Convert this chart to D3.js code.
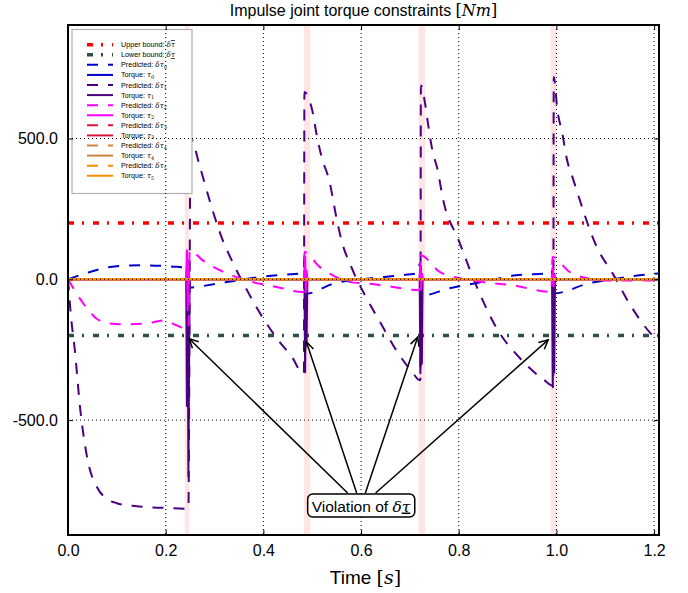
<!DOCTYPE html>
<html><head><meta charset="utf-8">
<script src="https://cdn.jsdelivr.net/npm/d3@7"></script>
<style>body{margin:0;background:#fff}</style>
</head><body><svg id="c" width="688" height="593"></svg>
<script>
// ---------- data ----------
const xTicks = [0.0, 0.2, 0.4, 0.6, 0.8, 1.0, 1.2];
const yTicks = [-500, 0, 500];
const upperBound = 200;
const lowerBound = -200;
const tEnd = 1.21;
const impactSpans = [[0.239, 0.248], [0.483, 0.496], [0.718, 0.731], [0.988, 1.0]];

// Predicted (dashed)
const predTau0 = [[0,0],[0.045,26],[0.086,44],[0.147,50],[0.209,46],[0.243,42],[0.2465,65],[0.2505,-30],[0.264,-27],[0.325,-10],[0.393,8],[0.455,18],[0.481,22],[0.484,40],[0.488,-51],[0.544,-15],[0.611,2],[0.679,14],[0.716,22],[0.7205,57],[0.726,-57],[0.781,-32],[0.849,-9],[0.917,14],[0.985,22],[0.990,32],[0.995,-50],[1.067,-14],[1.114,0],[1.170,14],[1.21,21]];
const predTau1 = [[0,0],[0.006,-130],[0.014,-252],[0.025,-460],[0.04,-640],[0.06,-740],[0.08,-780],[0.1,-795],[0.14,-806],[0.2,-812],[0.245,-815],[0.2465,-815],[0.251,500],[0.27,400],[0.29,280],[0.31,170],[0.34,50],[0.37,-50],[0.40,-140],[0.43,-215],[0.46,-280],[0.481,-335],[0.483,-335],[0.484,665],[0.50,600],[0.51,505],[0.52,430],[0.535,350],[0.55,215],[0.56,138],[0.58,44],[0.61,-63],[0.637,-146],[0.672,-252],[0.705,-330],[0.720,-358],[0.7215,-358],[0.7225,688],[0.731,625],[0.737,553],[0.746,458],[0.757,387],[0.767,291],[0.80,138],[0.84,-39],[0.88,-181],[0.92,-270],[0.975,-358],[0.993,-378],[0.9935,-378],[0.9945,718],[1.002,600],[1.012,518],[1.022,422],[1.033,362],[1.084,110],[1.115,21],[1.149,-85],[1.176,-156],[1.21,-224]];
const predTau2 = [[0,0],[0.031,-85],[0.058,-139],[0.086,-157],[0.12,-160],[0.161,-157],[0.195,-146],[0.222,-163],[0.245,-178],[0.2465,-178],[0.249,103],[0.276,67],[0.325,21],[0.365,-4],[0.427,-27],[0.481,-45],[0.4825,-45],[0.484,97],[0.515,44],[0.542,14],[0.577,-10],[0.611,-15],[0.665,-27],[0.718,-39],[0.7195,-39],[0.7215,85],[0.761,26],[0.802,4],[0.849,-10],[0.910,-21],[0.988,-45],[0.9895,-45],[0.992,79],[1.027,26],[1.068,2],[1.102,-4],[1.156,-4],[1.21,-4]];
const predTau3 = [[0,0],[1.21,0]];
const predTau4 = [[0,0],[1.21,0]];
const predTau5 = [[0,0],[1.21,0]];

// Applied torques (solid): zero except during impacts
const torqueTau0 = [[0,0],[0.242,0],[0.2435,44],[0.2450,-60],[0.2465,30],[0.248,0],[0.484,0],[0.4855,40],[0.487,-40],[0.4885,20],[0.490,0],[0.720,0],[0.7215,50],[0.723,-45],[0.7245,20],[0.726,0],[0.991,0],[0.9925,40],[0.994,-60],[0.9955,20],[0.997,0],[1.21,0]];
const torqueTau1 = [[0,0],[0.242,0],[0.2435,-450],[0.2450,-20],[0.2465,-700],[0.249,0],[0.484,0],[0.4855,-330],[0.487,-30],[0.4885,-227],[0.490,0],[0.720,0],[0.7215,-334],[0.723,-20],[0.7245,-300],[0.726,0],[0.991,0],[0.9925,-383],[0.994,-30],[0.9955,-330],[0.997,0],[1.21,0]];
const torqueTau2 = [[0,0],[0.242,0],[0.2435,103],[0.2450,-110],[0.2465,60],[0.248,0],[0.484,0],[0.4855,80],[0.487,-45],[0.4885,30],[0.490,0],[0.720,0],[0.7215,60],[0.723,-35],[0.7245,20],[0.726,0],[0.991,0],[0.9925,44],[0.994,-25],[0.9955,15],[0.997,0],[1.21,0]];
const torqueTau3 = [[0,0],[1.21,0]];
const torqueTau4 = [[0,0],[1.21,0]];
const torqueTau5 = [[0,0],[1.21,0]];

const violationTargets = [[0.248,-211],[0.488,-222],[0.716,-205],[0.983,-215]];

// ---------- layout ----------
const W = 688, H = 593;
const M = {l: 68, r: 29, t: 25, b: 58};
const svg = d3.select('#c');
const x = d3.scaleLinear().domain([0, tEnd]).range([M.l, W - M.r]);
const y = d3.scaleLinear().domain([-908, 903]).range([H - M.b, M.t]);
const SANS = "'Liberation Sans', Arial, Helvetica, sans-serif";
const SERIF = "'DejaVu Serif', serif";

svg.append('defs').append('clipPath').attr('id','clip')
  .append('rect').attr('x', M.l).attr('y', M.t).attr('width', W-M.l-M.r).attr('height', H-M.t-M.b);

const plot = svg.append('g').attr('clip-path','url(#clip)');

// impact spans
plot.selectAll('rect.span').data(impactSpans).join('rect')
  .attr('x', d => x(d[0])).attr('width', d => x(d[1]) - x(d[0]))
  .attr('y', M.t).attr('height', H - M.t - M.b)
  .attr('fill', '#ff0000').attr('fill-opacity', 0.1);

// legend (drawn below data & grid)
const legendItems = [
  {pre:'Upper bound: ', sym:'τ', deco:'overline', sub:'', color:'#ff0000', dash:'6,8,2,9', w:3.5},
  {pre:'Lower bound: ', sym:'τ', deco:'underline', sub:'', color:'#2f4f4f', dash:'6,8,2,9', w:3.5},
  {pre:'Predicted: ', sym:'δτ', sub:'0', color:'#0000cd', dash:'11,10', w:2},
  {pre:'Torque: ', sym:'τ', sub:'0', color:'#0000cd', dash:null, w:2},
  {pre:'Predicted: ', sym:'δτ', sub:'1', color:'#4b0082', dash:'11,10', w:2},
  {pre:'Torque: ', sym:'τ', sub:'1', color:'#4b0082', dash:null, w:2},
  {pre:'Predicted: ', sym:'δτ', sub:'2', color:'#ff00ff', dash:'11,10', w:2},
  {pre:'Torque: ', sym:'τ', sub:'2', color:'#ff00ff', dash:null, w:2},
  {pre:'Predicted: ', sym:'δτ', sub:'3', color:'#dc143c', dash:'11,10', w:2},
  {pre:'Torque: ', sym:'τ', sub:'3', color:'#dc143c', dash:null, w:2},
  {pre:'Predicted: ', sym:'δτ', sub:'4', color:'#cd853f', dash:'11,10', w:2},
  {pre:'Torque: ', sym:'τ', sub:'4', color:'#cd853f', dash:null, w:2},
  {pre:'Predicted: ', sym:'δτ', sub:'5', color:'#ff8c00', dash:'11,10', w:2},
  {pre:'Torque: ', sym:'τ', sub:'5', color:'#ff8c00', dash:null, w:2},
];
const lg = svg.append('g');
lg.append('rect').attr('x', 72).attr('y', 29.5).attr('width', 120).attr('height', 164)
  .attr('fill', '#fff').attr('stroke', '#b0b0b0').attr('stroke-width', 1.2);
legendItems.forEach((d, i) => {
  const yy = 44.7 + i * 10.08;
  lg.append('line').attr('x1', 87).attr('x2', 113).attr('y1', yy).attr('y2', yy)
    .attr('stroke', d.color).attr('stroke-width', d.w)
    .attr('stroke-dasharray', d.dash);
  const t = lg.append('text').attr('x', 121).attr('y', yy + 2.5)
    .attr('font-family', SANS).attr('font-size', 7.2).attr('fill', '#000');
  t.append('tspan').text(d.pre);
  if (d.deco) {
    t.append('tspan').attr('font-family', SERIF).attr('font-style', 'italic').text('δ');
    t.append('tspan').attr('font-family', SERIF).attr('font-style', 'italic')
      .attr('text-decoration', d.deco).text(d.sym);
  } else {
    t.append('tspan').attr('font-family', SERIF).attr('font-style', 'italic').text(d.sym);
  }
  if (d.sub) t.append('tspan').attr('font-family', SERIF).attr('font-size', 5).attr('dy', 1.5).text(d.sub);
});

// bounds
const line = d3.line().x(d => x(d[0])).y(d => y(d[1]));
const smooth = d3.line().x(d => x(d[0])).y(d => y(d[1])).curve(d3.curveMonotoneX);
plot.append('path').attr('d', line([[0, upperBound],[tEnd, upperBound]]))
  .attr('stroke', '#ff0000').attr('stroke-width', 3.5).attr('fill','none').attr('stroke-dasharray','6,8,2,9');
plot.append('path').attr('d', line([[0, lowerBound],[tEnd, lowerBound]]))
  .attr('stroke', '#2f4f4f').attr('stroke-width', 3.5).attr('fill','none').attr('stroke-dasharray','6,8,2,9');

const series = [
  {d: predTau0, c:'#0000cd', dash:'11,10', gen: smooth},
  {d: torqueTau0, c:'#0000cd', dash:null, gen: line},
  {d: predTau1, c:'#4b0082', dash:'11,10', gen: smooth},
  {d: torqueTau1, c:'#4b0082', dash:null, gen: line},
  {d: predTau2, c:'#ff00ff', dash:'11,10', gen: smooth},
  {d: torqueTau2, c:'#ff00ff', dash:null, gen: line},
  {d: predTau3, c:'#dc143c', dash:'11,10', gen: line},
  {d: torqueTau3, c:'#dc143c', dash:null, gen: line},
  {d: predTau4, c:'#cd853f', dash:'11,10', gen: line},
  {d: torqueTau4, c:'#cd853f', dash:null, gen: line},
  {d: predTau5, c:'#ff8c00', dash:'11,10', gen: line},
  {d: torqueTau5, c:'#ff8c00', dash:null, gen: line},
];
series.forEach(s => {
  plot.append('path').attr('d', s.gen(s.d)).attr('fill','none')
    .attr('stroke', s.c).attr('stroke-width', 2)
    .attr('stroke-dasharray', s.dash).attr('stroke-linejoin','round');
});

// grid (on top)
const grid = svg.append('g');
xTicks.forEach(v => grid.append('line').attr('x1', x(v)).attr('x2', x(v)).attr('y1', M.t).attr('y2', H-M.b)
  .attr('stroke','#000').attr('stroke-width',1).attr('stroke-dasharray','1,3'));
yTicks.forEach(v => grid.append('line').attr('y1', y(v)).attr('y2', y(v)).attr('x1', M.l).attr('x2', W-M.r)
  .attr('stroke','#000').attr('stroke-width',1).attr('stroke-dasharray','1,3'));

// axes
const fmt = v => v.toFixed(1);
const axB = svg.append('g').attr('transform', `translate(0,${H-M.b})`)
  .call(d3.axisBottom(x).tickValues(xTicks).tickFormat(fmt).tickSizeInner(-5).tickSizeOuter(0).tickPadding(10));
const axT = svg.append('g').attr('transform', `translate(0,${M.t})`)
  .call(d3.axisTop(x).tickValues(xTicks).tickFormat('').tickSizeInner(-5).tickSizeOuter(0));
const axL = svg.append('g').attr('transform', `translate(${M.l},0)`)
  .call(d3.axisLeft(y).tickValues(yTicks).tickFormat(fmt).tickSizeInner(-5).tickSizeOuter(0).tickPadding(10));
const axR = svg.append('g').attr('transform', `translate(${W-M.r},0)`)
  .call(d3.axisRight(y).tickValues(yTicks).tickFormat('').tickSizeInner(-5).tickSizeOuter(0));
[axB, axT, axL, axR].forEach(a => {
  a.select('.domain').remove();
  a.selectAll('line').attr('stroke','#000').attr('stroke-width',1);
  a.selectAll('text').attr('font-family', SANS).attr('font-size', 16).attr('fill','#000');
});
svg.append('rect').attr('x', M.l).attr('y', M.t).attr('width', W-M.l-M.r).attr('height', H-M.t-M.b)
  .attr('fill','none').attr('stroke','#000').attr('stroke-width',2);

// title
const title = svg.append('text').attr('x', (M.l + W - M.r)/2).attr('y', 16)
  .attr('text-anchor','middle').attr('font-family', SANS).attr('font-size', 16);
title.append('tspan').text('Impulse joint torque constraints ');
title.append('tspan').attr('font-family', SERIF).text('[');
title.append('tspan').attr('font-family', SERIF).attr('font-style','italic').text('Nm');
title.append('tspan').attr('font-family', SERIF).text(']');

// x label
const xl = svg.append('text').attr('x', (M.l + W - M.r)/2 + 2).attr('y', 584)
  .attr('text-anchor','middle').attr('font-family', SANS).attr('font-size', 19);
xl.append('tspan').text('Time ');
xl.append('tspan').attr('font-family', SERIF).text('[');
xl.append('tspan').attr('font-family', SERIF).attr('font-style','italic').text('s');
xl.append('tspan').attr('font-family', SERIF).text(']');

// annotation
const ann = svg.append('g');
const cx = 361, cy = 506;
const at = ann.append('text').attr('x', cx).attr('y', cy + 5.5).attr('text-anchor','middle')
  .attr('font-family', SANS).attr('font-size', 15.5);
at.append('tspan').text('Violation of ');
at.append('tspan').attr('font-family', SERIF).attr('font-style','italic').text('δ');
at.append('tspan').attr('font-family', SERIF).attr('font-style','italic')
  .attr('text-decoration','underline').text('τ');
const bb = at.node().getBBox();
const bx0 = bb.x - 4, by0 = 494, bw = bb.width + 8, bh = 23;
ann.insert('rect','text').attr('x', bx0).attr('y', by0).attr('width', bw).attr('height', bh)
  .attr('rx', 5).attr('fill','#fff').attr('stroke','#000').attr('stroke-width',1.5);
violationTargets.forEach(p => {
  const tx = x(p[0]), ty = y(p[1]);
  const k = (cy - (by0 - 1)) / (cy - ty);
  const sx = cx + (tx - cx) * k, sy = by0 - 1;
  ann.append('line').attr('x1', sx).attr('y1', sy).attr('x2', tx).attr('y2', ty)
    .attr('stroke','#000').attr('stroke-width',1.5);
  const ang = Math.atan2(ty - sy, tx - sx);
  const hl = 9, hw = 4.5;
  const bxp = tx - hl*Math.cos(ang), byp = ty - hl*Math.sin(ang);
  const px = -Math.sin(ang)*hw, py = Math.cos(ang)*hw;
  ann.append('path').attr('d', `M${bxp+px},${byp+py}L${tx},${ty}L${bxp-px},${byp-py}`)
    .attr('fill','none').attr('stroke','#000').attr('stroke-width',1.5);
});
</script></body></html>
